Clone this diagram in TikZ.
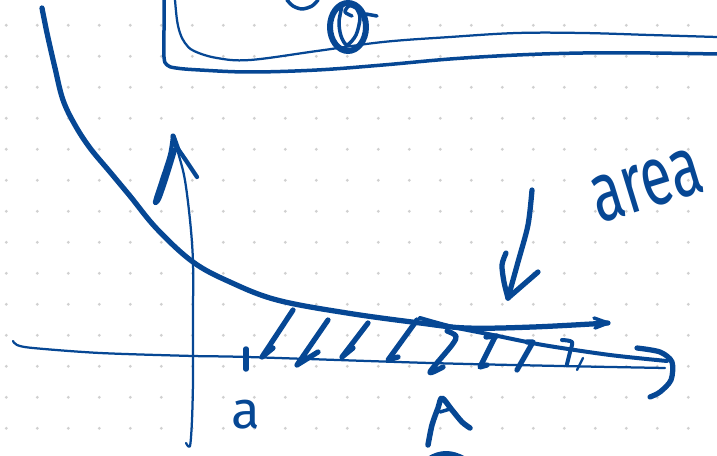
\documentclass[tikz,border=0pt]{standalone}
\usepackage{fontspec}
\setmainfont{Fira Sans}
\definecolor{ink}{RGB}{6,71,148}
\definecolor{dotc}{RGB}{208,208,208}
\tikzset{
  pen/.style={draw=ink, line cap=round, line join=round},
  fine/.style={pen, line width=0.045cm},
  mid/.style={pen, line width=0.07cm},
  bold/.style={pen, line width=0.105cm},
  hand/.style={text=ink, inner sep=0pt, outer sep=0pt},
}
\begin{document}
\begin{tikzpicture}[x=0.02cm, y=-0.02cm]
\useasboundingbox (0,0) rectangle (717,456);
\fill[white] (0,0) rectangle (717,456);
% dotted grid
\foreach \i in {0,...,22}{
  \foreach \j in {0,...,13}{
    \fill[dotc] ({6.3+31*\i},{25.3+31*\j}) circle (1.6);
  }
}
% top frame lines
\draw[mid] plot[smooth, tension=0.6] coordinates {(164,0) (164,30) (164,57) (167,65) (176,68) (200,70) (250,72) (317,70) (383,65) (450,59) (517,55) (583,53) (650,53) (717,54)};
\draw[fine] plot[smooth, tension=0.6] coordinates {(175,0) (177,20) (180,33) (185,43) (194,51) (217,58) (250,60) (317,51) (383,42) (450,37) (517,33) (583,33) (650,35) (717,37)};
% partial glyphs at top
\draw[mid] plot[smooth] coordinates {(287,0) (293,6) (302,9) (312,6) (318,0)};
\draw[pen, line width=0.12cm] (348,27) ellipse (18 and 24);
\draw[mid] plot[smooth] coordinates {(342,6) (339,22) (341,36) (347,45) (356,35) (360,18) (356,8) (349,6) (345,12) (352,16)};
\draw[mid] (366,14) -- (377,16);
% main curve
\draw[bold] plot[smooth, tension=0.6] coordinates {(42,8) (47,33) (55,68) (63,100) (75,125) (90,148) (110,172) (130,196) (157,229) (193,262) (230,282) (277,300) (347,313) (420,323) (467,328) (533,327) (608,323)};
\draw[mid] (594,318) -- (608,323) -- (595,328);
% vertical axis
\draw[fine] plot[smooth] coordinates {(186,443) (190,446) (192,420) (193,380) (193,320) (193,262) (190,220) (184,175) (173,136)};
\draw[bold] (173,136) -- (178,150);
\draw[pen, line width=0.085cm] plot[smooth] coordinates {(173,136) (170,155) (161,183) (155,202) (159,199) (167,176) (175,150)};
\draw[pen, line width=0.085cm] plot[smooth] coordinates {(176,146) (187,162) (197,177)};
% horizontal axis
\draw[fine] plot[smooth] coordinates {(13,341) (17,345) (33,348) (100,353) (193,356) (247,357) (430,363) (560,366) (665,368)};
\draw[pen, line width=0.08cm] plot[smooth] coordinates {(420,318) (453,327) (493,335) (543,345) (610,355) (667,361)};
\draw[bold] plot[smooth] coordinates {(637,348) (660,352) (672,362) (671,380) (660,392) (650,397)};
% tick at a
\draw[pen, line width=0.11cm] (246,349) -- (246,369);
% hatching
\draw[bold] (293,310) -- (262,357) -- (273,348);
\draw[bold] (328,320) -- (297,365) -- (318,352);
\draw[bold] (368,323) -- (342,357) -- (353,348);
\draw[bold] (417,320) -- (388,360) -- (398,357);
\draw[bold] plot[smooth] coordinates {(447,331) (456,336) (452,345) (430,372) (443,367)};
\draw[bold] (486,337) -- (497,336);
\draw[bold] (495,337) -- (480,367) -- (487,365);
\draw[bold] (527,342) -- (533,342) -- (517,370);
\draw[pen, line width=0.08cm] plot[smooth] coordinates {(562,340) (572,342) (570,352) (567,364)};
\draw[fine] (583,358) -- (577,370);
% arrow to area
\draw[bold] plot[smooth] coordinates {(532,190) (528,225) (518,262) (508,298)};
\draw[bold] plot[smooth] coordinates {(506,253) (502,265) (504,282) (508,298)};
\draw[bold] (508,298) -- (538,272);
% bottom partial glyph
\draw[pen, line width=0.11cm] plot[smooth] coordinates {(428,445) (432,425) (438,408) (442,398) (452,410) (462,422) (470,428)};
\draw[mid] (440,412) -- (450,409);
\fill[ink] (427,457) .. controls (440,449) and (452,449) .. (466,457) -- cycle;
% labels
\node[hand, font=\fontsize{30}{30}\selectfont] (alabel) at (246,415) {a};
\node[hand, rotate=17] (arealabel) at (647,186) {\scalebox{0.68}[1]{\fontsize{48}{48}\selectfont area}};
\end{tikzpicture}
\end{document}
